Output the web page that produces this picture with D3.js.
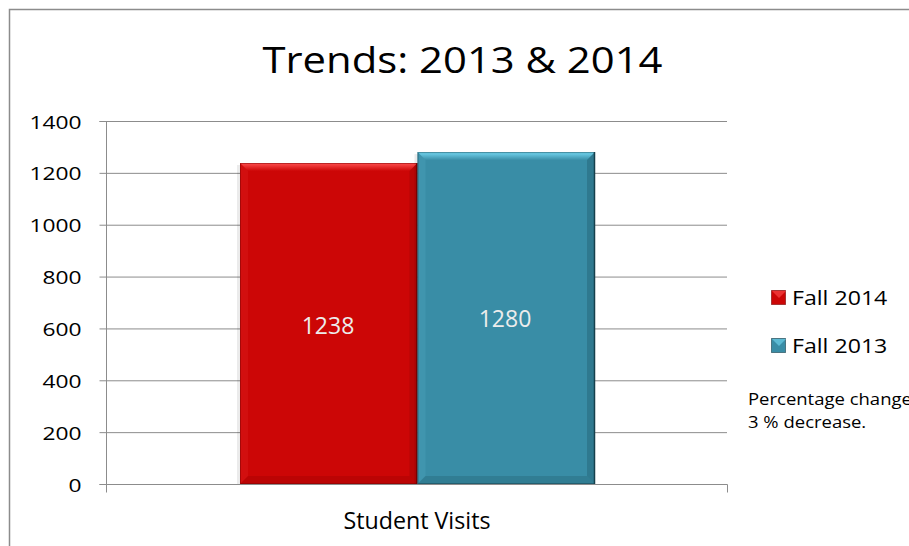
<!DOCTYPE html>
<html><head><meta charset="utf-8">
<script src="https://cdn.jsdelivr.net/npm/d3@7"></script>
<style>body{margin:0;background:#fff}svg{display:block}text{font-family:"Open Sans","Noto Sans",sans-serif}</style>
</head><body><svg id="c" width="909" height="546"></svg>
<script>
const categories = ["Student Visits"];
const seriesNames = ["Fall 2014", "Fall 2013"];
const values = [1238, 1280];
const yTicks = [0, 200, 400, 600, 800, 1000, 1200, 1400];
const colors = ["#CC0606", "#398DA6"];
const lights = ["#FF5050", "#74D8F2"];
const darks = ["#7A0202", "#15404C"];
const title = "Trends: 2013 & 2014";
const note = ["Percentage change", "3 % decrease."];

function stretch(sel, factor){
  sel.each(function(){
    const w = this.getComputedTextLength();
    d3.select(this).attr("textLength", w*factor).attr("lengthAdjust","spacingAndGlyphs");
  });
}

const svg = d3.select("#c");
svg.append("rect").attr("x",9.5).attr("y",9.5).attr("width",920).attr("height",560)
  .attr("fill","#fff").attr("stroke","#8c8c8c").attr("stroke-width",1.5);

const m = {l:106, r:727, t:121, b:484};
const y = d3.scaleLinear().domain([0,1400]).range([m.b, m.t]);
const x0 = d3.scaleBand().domain(categories).range([m.l, m.r]);
const x1 = d3.scaleBand().domain(seriesNames).range([240-m.l, 595-m.l]);

const tt = svg.append("text").attr("x",462.5).attr("y",73).attr("text-anchor","middle")
  .attr("font-size",36).attr("fill","#000").text(title);
tt.attr("textLength",400).attr("lengthAdjust","spacingAndGlyphs");

// gridlines
svg.append("g").selectAll("line").data(yTicks.slice(1)).join("line")
  .attr("x1",m.l).attr("x2",m.r).attr("y1",d=>y(d)+0.5).attr("y2",d=>y(d)+0.5)
  .attr("stroke","#8c8c8c").attr("stroke-width",1);

const ya = svg.append("g").attr("transform",`translate(${m.l+0.5},0)`)
  .call(d3.axisLeft(y).tickValues(yTicks).tickSize(7).tickPadding(18).tickFormat(d3.format("d")));
ya.selectAll("text").attr("font-size",17.5).attr("fill","#000").attr("font-family","Open Sans")
  .attr("dy",null).attr("y",7);
stretch(ya.selectAll("text"), 1.3);
ya.selectAll("line,path").attr("stroke","#8c8c8c");
ya.select("path").attr("d",`M-7,${m.t+0.5}H0V${m.b+0.5}H-7`);

const defs = svg.append("defs");
const g = svg.append("g").attr("transform",`translate(${x0(categories[0])},0)`);
const bev = 8;
seriesNames.forEach((s,i)=>{
  const bx = x1(s), bw = x1.bandwidth(), by = y(values[i]), bh = m.b - by;
  const grp = g.append("g");
  grp.append("rect").attr("x",bx-3).attr("y",by+2).attr("width",bw+3).attr("height",bh-2).attr("fill","#000").attr("opacity",0.08);
  grp.append("rect").attr("x",bx).attr("y",by).attr("width",bw).attr("height",bh).attr("fill",colors[i]);
  const gid = "tg"+i;
  const lg = defs.append("linearGradient").attr("id",gid).attr("x1",0).attr("y1",0).attr("x2",0).attr("y2",1);
  lg.append("stop").attr("offset",0).attr("stop-color",lights[i]);
  lg.append("stop").attr("offset",1).attr("stop-color",colors[i]);
  grp.append("path").attr("d",`M${bx},${by}H${bx+bw}L${bx+bw-bev},${by+bev}H${bx+bev}Z`).attr("fill",`url(#${gid})`);
  grp.append("path").attr("d",`M${bx},${by}L${bx+bev},${by+bev}V${by+bh-bev}L${bx},${by+bh}Z`).attr("fill",lights[i]).attr("opacity",0.12);
  grp.append("path").attr("d",`M${bx+bw},${by}L${bx+bw-bev},${by+bev}V${by+bh-bev}L${bx+bw},${by+bh}Z`).attr("fill",darks[i]).attr("opacity",0.25);
  grp.append("path").attr("d",`M${bx},${by+bh}L${bx+bev},${by+bh-bev}H${bx+bw-bev}L${bx+bw},${by+bh}Z`).attr("fill",darks[i]).attr("opacity",0.2);
  grp.append("line").attr("x1",bx+bw-0.5).attr("x2",bx+bw-0.5).attr("y1",by).attr("y2",by+bh).attr("stroke",darks[i]).attr("stroke-width",1.5);
  grp.append("rect").attr("x",bx+0.5).attr("y",by+0.5).attr("width",bw-1).attr("height",bh-1).attr("fill","none").attr("stroke",darks[i]).attr("stroke-opacity",0.5).attr("stroke-width",1);
});
// value labels
const labelPos = [{x:328, y:334},{x:505, y:327}];
g.selectAll("text.v").data(values).join("text").attr("class","v")
  .attr("x",(d,i)=>labelPos[i].x - x0(categories[0])).attr("y",(d,i)=>labelPos[i].y)
  .attr("text-anchor","middle").attr("font-size",23).attr("fill","#ececec").text(d=>d);

// x axis
const xa = svg.append("g").attr("transform",`translate(0,${m.b+0.5})`)
  .call(d3.axisBottom(x0).tickSize(0).tickPadding(0));
xa.selectAll("text").attr("font-size",23).attr("fill","#000").attr("font-family","Open Sans")
  .attr("dy",null).attr("y",44).attr("x",0.5).attr("textLength",147).attr("lengthAdjust","spacingAndGlyphs");
xa.select("path").attr("stroke","#8c8c8c").attr("d",`M${m.l+0.5},0H${m.r+0.5}V8M${m.l+0.5},0V8`);

// legend
const lgd = svg.append("g");
const legY = [305, 353];
seriesNames.forEach((s,i)=>{
  const ly = legY[i];
  lgd.append("rect").attr("x",771.5).attr("y",ly-14.5).attr("width",14).attr("height",14).attr("fill",colors[i]).attr("stroke",darks[i]).attr("stroke-opacity",0.6);
  lgd.append("path").attr("d",`M772,${ly-14}H786L779,${ly-7}Z`).attr("fill",lights[i]).attr("opacity",0.6);
  const t = lgd.append("text").attr("x",792).attr("y",ly).attr("font-size",19.6).attr("fill","#000").text(s);
  stretch(t, 1.18);
});
note.forEach((t,i)=>{
  const tx = svg.append("text").attr("x",748).attr("y",405+i*23).attr("font-size",16.5).attr("fill","#000").text(t);
  stretch(tx, 1.12);
});
</script></body></html>
